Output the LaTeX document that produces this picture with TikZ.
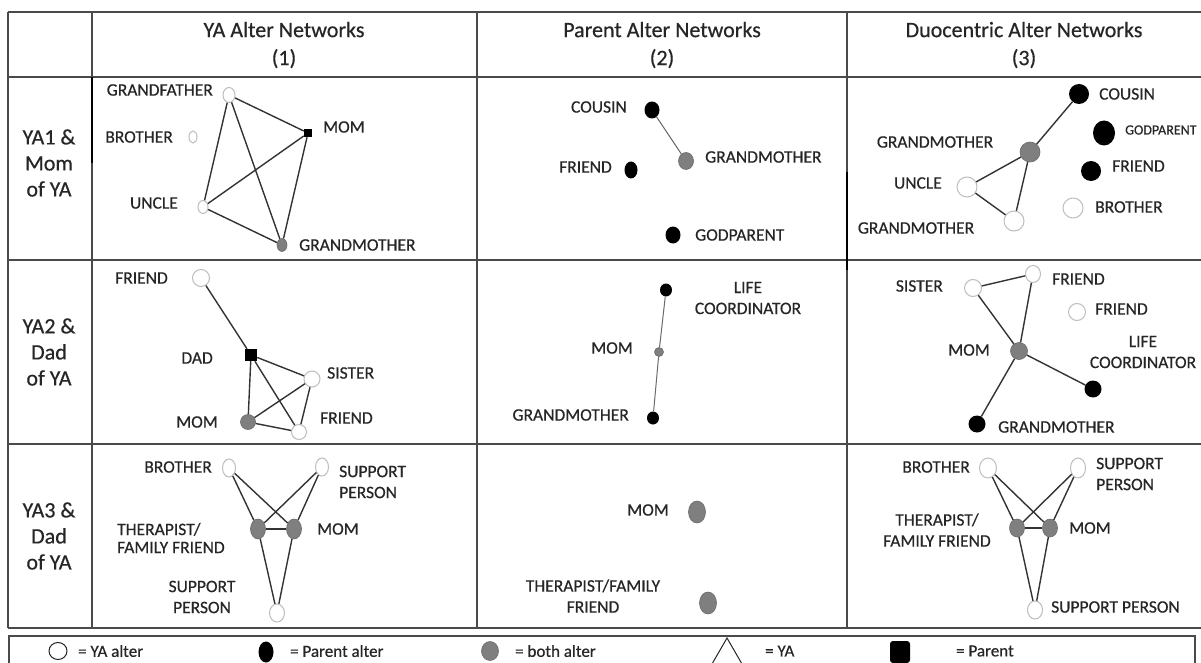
\documentclass[tikz,border=0pt]{standalone}
\usepackage{fontspec}
\setmainfont{Carlito}
\newfontfamily\lblfont{Carlito}[FakeBold=0.5]
\usetikzlibrary{shapes.geometric}

\definecolor{tabline}{HTML}{4A4A4A}
\definecolor{ring}{HTML}{BDBDBD}
\definecolor{both}{HTML}{7F7F7F}
\definecolor{bothd}{HTML}{6A6A6A}
\definecolor{ink}{HTML}{262626}
\definecolor{edgec}{HTML}{333333}
\definecolor{edgel}{HTML}{6A6A6A}

\tikzset{
  yalt/.style 2 args={ellipse, draw=ring, line width=1pt, fill=white, inner sep=0pt, minimum width=#1pt, minimum height=#2pt},
  palt/.style 2 args={ellipse, fill=black, inner sep=0pt, minimum width=#1pt, minimum height=#2pt},
  balt/.style 2 args={ellipse, draw=bothd, line width=0.6pt, fill=both, inner sep=0pt, minimum width=#1pt, minimum height=#2pt},
  parsq/.style={rectangle, fill=black, inner sep=0pt, minimum size=#1pt},
  lbl/.style={text=ink, font=\lblfont\fontsize{17.5}{21}\selectfont, inner sep=0pt},
  link/.style={draw=edgec, line width=1.4pt},
  thinlink/.style={draw=edgel, line width=1pt},
  headtxt/.style={text=ink, align=center, font=\lblfont\fontsize{22}{28}\selectfont, inner sep=0pt},
  rowtxt/.style={text=ink, align=center, font=\lblfont\fontsize{22}{26}\selectfont, inner sep=0pt},
  legtxt/.style={text=ink, anchor=west, font=\lblfont\fontsize{17}{19}\selectfont, inner sep=0pt}
}

\begin{document}
\begin{tikzpicture}[x=1pt, y=-1pt]
  \clip (0,0) rectangle (1201,663);
  \fill[white] (0,0) rectangle (1201,663);

  % Table grid
  \draw[tabline, line width=1.5pt] (8,12) -- (1210,12);
  \draw[tabline, line width=1.5pt] (8,77) -- (1210,77);
  \draw[tabline, line width=1.5pt] (8,260) -- (1210,260);
  \draw[tabline, line width=1.5pt] (8,444) -- (1210,444);
  \draw[tabline, line width=1.5pt] (8,628) -- (1210,628);
  \draw[tabline, line width=1.5pt] (8,12) -- (8,628);
  \draw[tabline, line width=1.5pt] (92,12) -- (92,628);
  \draw[tabline, line width=1.5pt] (477,12) -- (477,628);
  \draw[tabline, line width=1.5pt] (847,12) -- (847,628);
  \draw[black, line width=2.6pt] (92,77) -- (92,163);
  \draw[black, line width=2.6pt] (847,172) -- (847,270);

  % Headers
  \node[headtxt] (h1) at (284,45) {YA Alter Networks\\(1)};
  \node[headtxt] (h2) at (662,45) {Parent Alter Networks\\(2)};
  \node[headtxt] (h3) at (1024,45) {Duocentric Alter Networks\\(3)};
  \node[rowtxt] (r1) at (49,163) {YA1 \&\\Mom\\of YA};
  \node[rowtxt] (r2) at (49,352) {YA2 \&\\Dad\\of YA};
  \node[rowtxt] (r3) at (49,536) {YA3 \&\\Dad\\of YA};

  % YA1 -- YA alters
  \node[yalt={12}{15}] (a1gf) at (229,95) {};
  \node[yalt={8}{12}] (a1br) at (193,137) {};
  \node[parsq=8] (a1mom) at (308,133) {};
  \node[yalt={10}{13}] (a1un) at (203,207) {};
  \node[balt={10}{13}] (a1gm) at (282,245) {};
  \draw[link] (a1gf) -- (a1mom);
  \draw[link] (a1gf) -- (a1un);
  \draw[link] (a1gf) -- (a1gm);
  \draw[link] (a1mom) -- (a1un);
  \draw[link] (a1mom) -- (a1gm);
  \draw[link] (a1un) -- (a1gm);
  \node[lbl, anchor=east] (a1gfL) at (213,90) {GRANDFATHER};
  \node[lbl, anchor=east] (a1brL) at (173,137) {BROTHER};
  \node[lbl, anchor=west] (a1momL) at (323,127) {MOM};
  \node[lbl, anchor=east] (a1unL) at (178,203) {UNCLE};
  \node[lbl, anchor=west] (a1gmL) at (299,245) {GRANDMOTHER};

  % YA1 -- parent alters
  \node[palt={15}{17}] (b1cou) at (652,110) {};
  \node[balt={15}{17}] (b1gm) at (686,161) {};
  \node[palt={13}{17}] (b1fr) at (631,170) {};
  \node[palt={15}{17}] (b1gp) at (673,235) {};
  \draw[thinlink] (b1cou) -- (b1gm);
  \node[lbl, anchor=east] (b1couL) at (627,107) {COUSIN};
  \node[lbl, anchor=west] (b1gmL) at (705,157) {GRANDMOTHER};
  \node[lbl, anchor=east] (b1frL) at (612,167) {FRIEND};
  \node[lbl, anchor=west] (b1gpL) at (695,235) {GODPARENT};

  % YA1 -- duocentric
  \node[palt={20}{20}] (c1cou) at (1079,94) {};
  \node[palt={22}{25}] (c1gp) at (1104,133) {};
  \node[balt={20}{20}] (c1gm) at (1030,152) {};
  \node[palt={20}{20}] (c1fr) at (1091,171) {};
  \node[yalt={20}{20}] (c1un) at (967,187) {};
  \node[yalt={20}{20}] (c1br) at (1073,208) {};
  \node[yalt={20}{20}] (c1gm2) at (1014,221) {};
  \draw[link] (c1cou) -- (c1gm);
  \draw[link] (c1gm) -- (c1un);
  \draw[link] (c1gm) -- (c1gm2);
  \draw[link] (c1un) -- (c1gm2);
  \node[lbl, anchor=west] (c1couL) at (1099,94) {COUSIN};
  \node[lbl, anchor=west, font=\lblfont\fontsize{14}{16}\selectfont] (c1gpL) at (1125,130) {GODPARENT};
  \node[lbl] (c1gmL) at (935,142) {GRANDMOTHER};
  \node[lbl, anchor=west] (c1frL) at (1112,166) {FRIEND};
  \node[lbl, anchor=east] (c1unL) at (942,183) {UNCLE};
  \node[lbl, anchor=west] (c1brL) at (1095,207) {BROTHER};
  \node[lbl] (c1gm2L) at (916,228) {GRANDMOTHER};

  % YA2 -- YA alters
  \node[yalt={17}{17}] (a2fr) at (201,278) {};
  \node[parsq=12] (a2dad) at (251,355) {};
  \node[yalt={16}{16}] (a2sis) at (312,379) {};
  \node[balt={15}{15}] (a2mom) at (248,422) {};
  \node[yalt={15}{15}] (a2fr2) at (299,432) {};
  \draw[link] (a2fr) -- (a2dad);
  \draw[link] (a2dad) -- (a2sis);
  \draw[link] (a2dad) -- (a2mom);
  \draw[link] (a2dad) -- (a2fr2);
  \draw[link] (a2sis) -- (a2mom);
  \draw[link] (a2sis) -- (a2fr2);
  \draw[link] (a2mom) -- (a2fr2);
  \node[lbl, anchor=east] (a2frL) at (168,278) {FRIEND};
  \node[lbl, anchor=east] (a2dadL) at (213,358) {DAD};
  \node[lbl, anchor=west] (a2sisL) at (327,373) {SISTER};
  \node[lbl, anchor=east] (a2momL) at (218,422) {MOM};
  \node[lbl, anchor=west] (a2fr2L) at (320,418) {FRIEND};

  % YA2 -- parent alters
  \node[palt={12}{13}] (b2lc) at (666,290) {};
  \node[balt={9}{9}] (b2mom) at (659,352) {};
  \node[palt={12}{13}] (b2gm) at (653,418) {};
  \draw[thinlink] (b2lc) -- (b2mom);
  \draw[thinlink] (b2mom) -- (b2gm);
  \node[lbl, align=center] (b2lcL) at (748,298) {LIFE\\COORDINATOR};
  \node[lbl, anchor=east] (b2momL) at (633,348) {MOM};
  \node[lbl, anchor=east] (b2gmL) at (629,415) {GRANDMOTHER};

  % YA2 -- duocentric
  \node[yalt={17}{17}] (c2sis) at (973,288) {};
  \node[yalt={15}{17}] (c2fr) at (1033,274) {};
  \node[yalt={17}{17}] (c2fr2) at (1077,312) {};
  \node[balt={17}{17}] (c2mom) at (1019,351) {};
  \node[palt={17}{17}] (c2lc) at (1093,389) {};
  \node[palt={17}{17}] (c2gm) at (977,424) {};
  \draw[link] (c2sis) -- (c2fr);
  \draw[link] (c2sis) -- (c2mom);
  \draw[link] (c2fr) -- (c2mom);
  \draw[link] (c2mom) -- (c2lc);
  \draw[link] (c2mom) -- (c2gm);
  \node[lbl, anchor=east] (c2sisL) at (943,286) {SISTER};
  \node[lbl, anchor=west] (c2frL) at (1052,279) {FRIEND};
  \node[lbl, anchor=west] (c2fr2L) at (1095,309) {FRIEND};
  \node[lbl, anchor=east] (c2momL) at (990,350) {MOM};
  \node[lbl, align=center] (c2lcL) at (1143,352) {LIFE\\COORDINATOR};
  \node[lbl, anchor=west] (c2gmL) at (998,427) {GRANDMOTHER};

  % YA3 -- YA alters
  \node[yalt={13}{18}] (a3br) at (229,468) {};
  \node[yalt={13}{18}] (a3sp) at (322,467) {};
  \node[balt={15}{20}] (a3th) at (258,529) {};
  \node[balt={15}{20}] (a3mom) at (294,529) {};
  \node[yalt={15}{18}] (a3sp2) at (277,613) {};
  \draw[link] (a3br) -- (a3th);
  \draw[link] (a3br) -- (a3mom);
  \draw[link] (a3sp) -- (a3th);
  \draw[link] (a3sp) -- (a3mom);
  \draw[link] (a3th) -- (a3mom);
  \draw[link] (a3th) -- (a3sp2);
  \draw[link] (a3mom) -- (a3sp2);
  \node[lbl, anchor=east] (a3brL) at (212,467) {BROTHER};
  \node[lbl, anchor=west, align=left] (a3spL) at (339,482) {SUPPORT\\PERSON};
  \node[lbl, anchor=west, align=left, font=\lblfont\fontsize{17.5}{18}\selectfont] (a3thL) at (117,538) {THERAPIST/\\FAMILY FRIEND};
  \node[lbl, anchor=west] (a3momL) at (317,529) {MOM};
  \node[lbl, align=center] (a3sp2L) at (202,597) {SUPPORT\\PERSON};

  % YA3 -- parent alters
  \node[balt={17}{22}] (b3mom) at (697,512) {};
  \node[balt={17}{22}] (b3th) at (708,603) {};
  \node[lbl, anchor=east] (b3momL) at (669,510) {MOM};
  \node[lbl, align=center] (b3thL) at (593,596) {THERAPIST/FAMILY\\FRIEND};

  % YA3 -- duocentric
  \node[yalt={17}{20}] (c3br) at (988,468) {};
  \node[yalt={15}{20}] (c3sp) at (1078,468) {};
  \node[balt={15}{18}] (c3th) at (1017,528) {};
  \node[balt={15}{18}] (c3mom) at (1050,528) {};
  \node[yalt={15}{18}] (c3sp2) at (1035,610) {};
  \draw[link] (c3br) -- (c3th);
  \draw[link] (c3br) -- (c3mom);
  \draw[link] (c3sp) -- (c3th);
  \draw[link] (c3sp) -- (c3mom);
  \draw[link] (c3th) -- (c3mom);
  \draw[link] (c3th) -- (c3sp2);
  \draw[link] (c3mom) -- (c3sp2);
  \node[lbl, anchor=east] (c3brL) at (970,467) {BROTHER};
  \node[lbl, anchor=west, align=left] (c3spL) at (1096,474) {SUPPORT\\PERSON};
  \node[lbl, align=center] (c3thL) at (937,530) {THERAPIST/\\FAMILY FRIEND};
  \node[lbl, anchor=west] (c3momL) at (1069,528) {MOM};
  \node[lbl, anchor=west] (c3sp2L) at (1051,607) {SUPPORT PERSON};

  % Legend
  \draw[tabline, line width=1.5pt] (9,636) rectangle (1195,672);
  \node[ellipse, draw=ink, line width=1pt, fill=white, inner sep=0pt, minimum width=18pt, minimum height=17pt] (kya) at (58,651) {};
  \node[legtxt] (kyaL) at (78,651) {= YA alter};
  \node[palt={15}{21}] (kpa) at (266,652) {};
  \node[legtxt] (kpaL) at (290,651) {= Parent alter};
  \node[balt={17}{19}] (kbo) at (490,651) {};
  \node[legtxt] (kboL) at (515,651) {= both alter};
  \node[regular polygon, regular polygon sides=3, draw=ink, line width=1pt, fill=white, inner sep=0pt, minimum size=40pt] (kyt) at (727,658) {};
  \node[legtxt] (kytL) at (765,651) {= YA};
  \node[rectangle, rounded corners=3pt, fill=black, inner sep=0pt, minimum width=20pt, minimum height=22pt] (kpr) at (900,652) {};
  \node[legtxt] (kprL) at (956,651) {= Parent};
\end{tikzpicture}
\end{document}
